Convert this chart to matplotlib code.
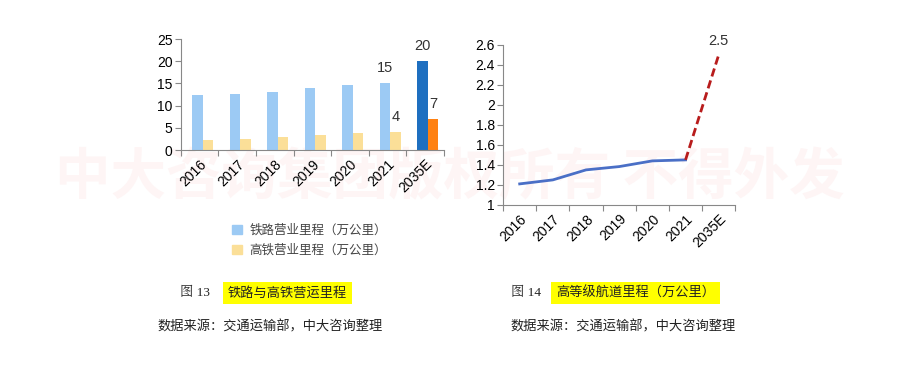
import numpy as np
import matplotlib.pyplot as plt
from matplotlib.patches import Patch

plt.rcParams['font.family'] = ['Liberation Sans', 'Noto Sans CJK SC', 'DejaVu Sans']

# data
years = ['2016', '2017', '2018', '2019', '2020', '2021', '2035E']
rail = [12.4, 12.7, 13.1, 13.9, 14.6, 15.0, 20.0]
hsr = [2.2, 2.5, 2.9, 3.5, 3.8, 4.0, 7.0]
rail_labels = {5: '15', 6: '20'}
hsr_labels = {5: '4', 6: '7'}
waterway = [1.21, 1.25, 1.35, 1.383, 1.44, 1.45]
waterway_2035 = 2.5

rail_colors = ['#9ccaf4'] * 6 + ['#1e6fc0']
hsr_colors = ['#fbdf98'] * 6 + ['#ff8112']

fig = plt.figure(figsize=(9, 3.83), dpi=100)

# faint watermark
fig.text(0.5, 0.535, '中大咨询集团版权所有 不得外发', ha='center', va='center',
         fontsize=40, fontweight='bold', color='#fef5f5',
         family=['Noto Sans CJK SC'], zorder=-5)

gray = '#888888'

# ---- left: bars
ax1 = fig.add_axes([0.201, 0.608, 0.292, 0.290])
ax1.set_facecolor('none')
x = np.arange(len(years))
w = 0.28
b1 = ax1.bar(x - 0.06, rail, w, color=rail_colors)
b2 = ax1.bar(x + 0.22, hsr, w, color=hsr_colors)
for i, t in rail_labels.items():
    ax1.annotate(t, (x[i] - 0.06, rail[i]), xytext=(0, 11), textcoords='offset points',
                 ha='center', va='center', fontsize=10.5, color='#333333')
for i, t in hsr_labels.items():
    ax1.annotate(t, (x[i] + 0.22, hsr[i]), xytext=(0, 11), textcoords='offset points',
                 ha='center', va='center', fontsize=10.5, color='#333333')
ax1.set_xlim(-0.5, 6.5)
ax1.set_ylim(0, 25)
ax1.set_yticks([0, 5, 10, 15, 20, 25])
ax1.set_xticks(np.arange(-0.5, 7, 1))
ax1.set_xticklabels([])
ax1.set_xticks(x, minor=True)
ax1.set_xticklabels(years, minor=True, rotation=45, ha='right', rotation_mode='anchor')
ax1.tick_params(axis='x', which='minor', length=0, pad=5, labelsize=10)
ax1.tick_params(axis='x', which='major', length=4, color=gray)
ax1.tick_params(axis='y', length=4, color=gray, labelsize=10, pad=2)

legend_handles = [Patch(color='#9ccaf4'), Patch(color='#fbdf98')]
ax1.legend(legend_handles, ['铁路营业里程（万公里）', '高铁营业里程（万公里）'],
           loc='upper left', bbox_to_anchor=(0.245, 0.445), bbox_transform=fig.transFigure,
           frameon=False, handlelength=0.8, handleheight=0.8, handletextpad=0.6,
           labelspacing=0.55, prop={'family': ['Noto Sans CJK SC'], 'size': 9},
           labelcolor='#444444')

# ---- right: line
ax2 = fig.add_axes([0.559, 0.465, 0.258, 0.418])
ax2.set_facecolor('none')
ax2.plot(x[:6], waterway, color='#4a6fc6', lw=2)
ax2.plot([x[5], x[6]], [waterway[5], waterway_2035], color='#b81c1c', lw=2, ls=(0, (3, 1.5)))
ax2.annotate('2.5', (x[6], waterway_2035), xytext=(0, 10), textcoords='offset points',
             ha='center', va='center', fontsize=10.5, color='#333333')
ax2.set_xlim(-0.5, 6.5)
ax2.set_ylim(1, 2.6)
ax2.set_yticks(np.arange(1, 2.61, 0.2))
ax2.set_yticklabels(['1', '1.2', '1.4', '1.6', '1.8', '2', '2.2', '2.4', '2.6'])
ax2.set_xticks(np.arange(-0.5, 7, 1))
ax2.set_xticklabels([])
ax2.set_xticks(x, minor=True)
ax2.set_xticklabels(years, minor=True, rotation=45, ha='right', rotation_mode='anchor')
ax2.tick_params(axis='x', which='minor', length=0, pad=5, labelsize=10)
ax2.tick_params(axis='x', which='major', length=4, color=gray)
ax2.tick_params(axis='y', length=4, color=gray, labelsize=10, pad=2)

for ax in (ax1, ax2):
    for s in ('top', 'right'):
        ax.spines[s].set_visible(False)
    for s in ('left', 'bottom'):
        ax.spines[s].set_color(gray)

# ---- captions
cap_y = 1 - 293 / 383
src_y = 1 - 327 / 383
cjk = ['Noto Sans CJK SC']
fig.text(180 / 900, cap_y, '图 13', ha='left', va='center', fontsize=9.5,
         family=['Liberation Serif', 'Noto Serif CJK SC', 'Noto Sans CJK SC'], color='#222222')
fig.text(228 / 900, cap_y, '铁路与高铁营运里程', ha='left', va='center', fontsize=9.5,
         family=cjk, color='#222222',
         bbox=dict(facecolor='#ffff00', edgecolor='none', pad=3.5))
fig.text(511 / 900, cap_y, '图 14', ha='left', va='center', fontsize=9.5,
         family=['Liberation Serif', 'Noto Serif CJK SC', 'Noto Sans CJK SC'], color='#222222')
fig.text(556 / 900, cap_y, '高等级航道里程（万公里）', ha='left', va='center', fontsize=9.5,
         family=cjk, color='#222222',
         bbox=dict(facecolor='#ffff00', edgecolor='none', pad=3.5))
fig.text(157 / 900, src_y, '数据来源：交通运输部，中大咨询整理', ha='left', va='center',
         fontsize=9.5, family=cjk, color='#222222')
fig.text(510 / 900, src_y, '数据来源：交通运输部，中大咨询整理', ha='left', va='center',
         fontsize=9.5, family=cjk, color='#222222')

fig.savefig('out.png', dpi=100)
